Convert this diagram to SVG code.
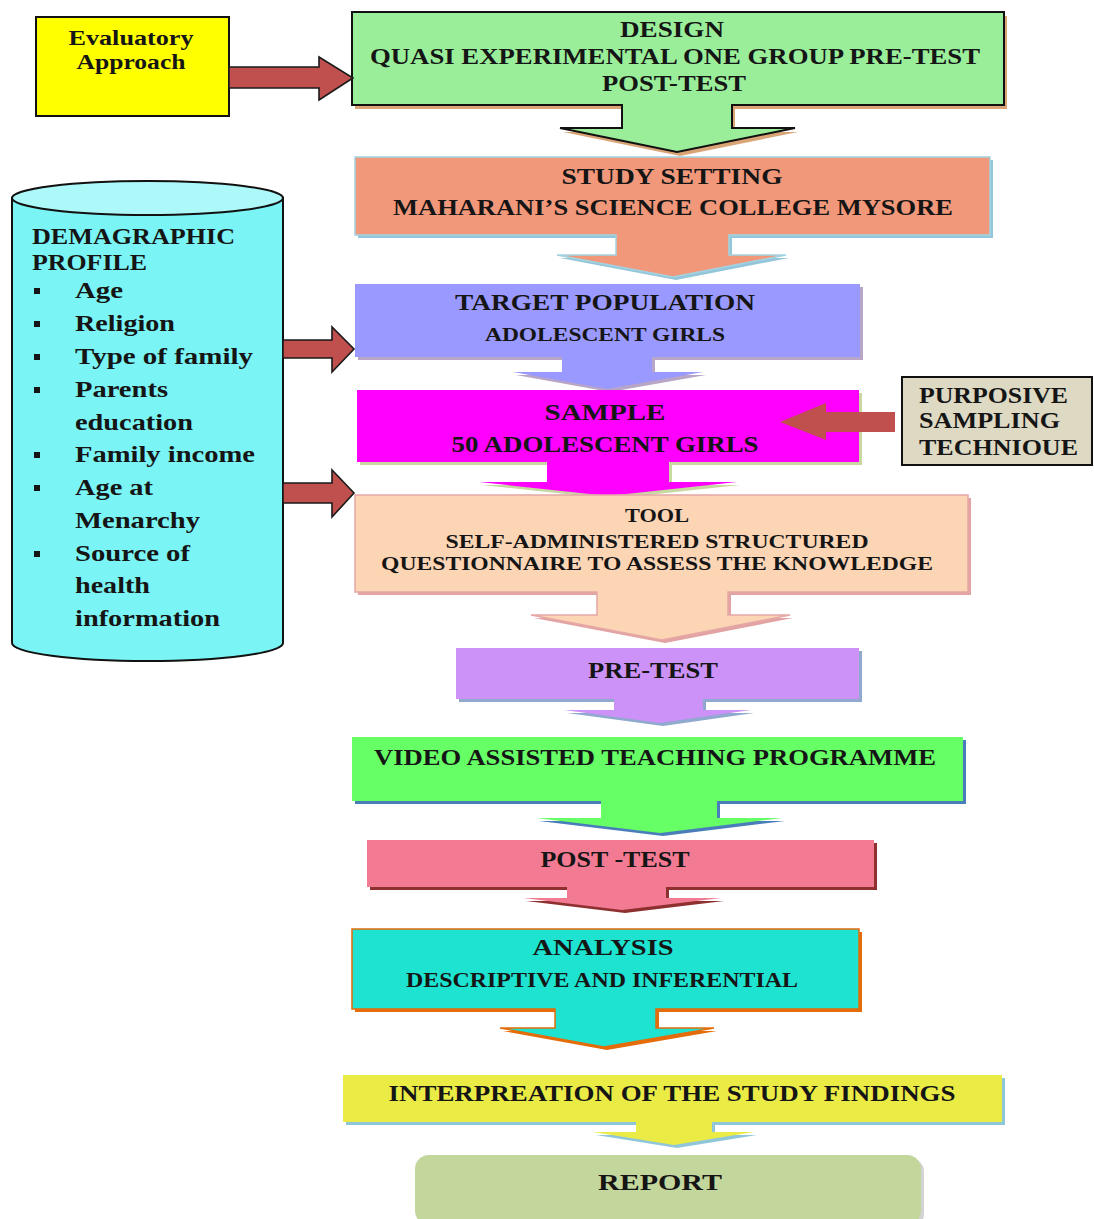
<svg xmlns="http://www.w3.org/2000/svg" width="1094" height="1219" viewBox="0 0 1094 1219">
<style>
  .t{font-family:"Liberation Serif","Times New Roman",serif;font-weight:bold;fill:#151515;}
  .c{text-anchor:middle;}
  .s22{font-size:23.5px;}
  .s19{font-size:20px;}
  .s18{font-size:19px;}
  .s23{font-size:24px;}
  .s20{font-size:20.5px;}
  .red{fill:#C0504D;stroke:#1a1a1a;stroke-width:1.6;}
</style>
<rect width="1094" height="1219" fill="#ffffff"/>

<g id="evaluatory">
  <rect x="36" y="17" width="193" height="99" fill="#FFFF00" stroke="#111" stroke-width="2"/>
  <text class="t s20 c" x="131" y="45" textLength="125" lengthAdjust="spacingAndGlyphs">Evaluatory</text>
  <text class="t s20 c" x="131" y="69" textLength="109" lengthAdjust="spacingAndGlyphs">Approach</text>
</g>

<g id="design">
  <path d="M352,12 H1004 V105 H732 V128 H795 L677,152 L560,128 H622 V105 H352 Z" fill="#D9A577" transform="translate(3,4)"/>
  <path d="M352,12 H1004 V105 H732 V128 H795 L677,152 L560,128 H622 V105 H352 Z" fill="#9AEE9A" stroke="#111" stroke-width="2"/>
  <text class="t s22 c" x="672" y="37" textLength="104" lengthAdjust="spacingAndGlyphs">DESIGN</text>
  <text class="t s22 c" x="675" y="64" textLength="610" lengthAdjust="spacingAndGlyphs">QUASI EXPERIMENTAL ONE GROUP PRE-TEST</text>
  <text class="t s22 c" x="674" y="91" textLength="144" lengthAdjust="spacingAndGlyphs">POST-TEST</text>
</g>

<g id="setting">
  <path d="M355,157 H990 V235 H729 V255 H786 L673,277 L557,255 H616 V235 H355 Z" fill="#93C6D8" transform="translate(3,3)"/>
  <path d="M355,157 H990 V235 H729 V255 H786 L673,277 L557,255 H616 V235 H355 Z" fill="#F2987A" stroke="#A3D3E2" stroke-width="1.5"/>
  <text class="t s22 c" x="672" y="184" textLength="221" lengthAdjust="spacingAndGlyphs">STUDY SETTING</text>
  <text class="t s22 c" x="673" y="215" textLength="560" lengthAdjust="spacingAndGlyphs">MAHARANI’S SCIENCE COLLEGE MYSORE</text>
</g>

<g id="population">
  <path d="M355,284 H860 V357 H652 V372 H703 L607,389 L513,372 H562 V357 H355 Z" fill="#B8A6C6" transform="translate(3,3)"/>
  <path d="M355,284 H860 V357 H652 V372 H703 L607,389 L513,372 H562 V357 H355 Z" fill="#9999FF"/>
  <text class="t s22 c" x="605" y="310" textLength="300" lengthAdjust="spacingAndGlyphs">TARGET POPULATION</text>
  <text class="t s18 c" x="605" y="341" textLength="240" lengthAdjust="spacingAndGlyphs">ADOLESCENT GIRLS</text>
</g>

<g id="sample">
  <path d="M357,390 H859 V462 H669 V482 H737 L608,496 L479,482 H547 V462 H357 Z" fill="#C8D8A0" transform="translate(3,3)"/>
  <path d="M357,390 H859 V462 H669 V482 H737 L608,496 L479,482 H547 V462 H357 Z" fill="#FF00FF"/>
  <text class="t s22 c" x="605" y="420" textLength="121" lengthAdjust="spacingAndGlyphs">SAMPLE</text>
  <text class="t s22 c" x="605" y="452" textLength="307" lengthAdjust="spacingAndGlyphs">50 ADOLESCENT GIRLS</text>
</g>

<g id="purposive">
  <rect x="902" y="377" width="190" height="88" fill="#DDD9C3" stroke="#111" stroke-width="2"/>
  <text class="t s22" x="919" y="403" textLength="149" lengthAdjust="spacingAndGlyphs">PURPOSIVE</text>
  <text class="t s22" x="919" y="428" textLength="141" lengthAdjust="spacingAndGlyphs">SAMPLING</text>
  <text class="t s22" x="919" y="455" textLength="159" lengthAdjust="spacingAndGlyphs">TECHNIOUE</text>
</g>

<g id="tool">
  <path d="M355,495 H968 V592 H728 V615 H790 L662,640 L531,615 H597 V592 H355 Z" fill="#E3A3A3" transform="translate(3,3)"/>
  <path d="M355,495 H968 V592 H728 V615 H790 L662,640 L531,615 H597 V592 H355 Z" fill="#FCD5B5" stroke="#E5A7A7" stroke-width="1.5"/>
  <text class="t s18 c" x="657" y="522" textLength="64" lengthAdjust="spacingAndGlyphs">TOOL</text>
  <text class="t s18 c" x="657" y="548" textLength="423" lengthAdjust="spacingAndGlyphs">SELF-ADMINISTERED STRUCTURED</text>
  <text class="t s18 c" x="657" y="570" textLength="552" lengthAdjust="spacingAndGlyphs">QUESTIONNAIRE TO ASSESS THE KNOWLEDGE</text>
</g>

<g id="pretest">
  <path d="M456,648 H859 V699 H703 V710 H751 L660,723 L564,710 H614 V699 H456 Z" fill="#8FA9CF" transform="translate(3,3)"/>
  <path d="M456,648 H859 V699 H703 V710 H751 L660,723 L564,710 H614 V699 H456 Z" fill="#CC92F7"/>
  <text class="t s22 c" x="653" y="678" textLength="130" lengthAdjust="spacingAndGlyphs">PRE-TEST</text>
</g>

<g id="video">
  <path d="M352,737 H963 V801 H717 V818 H782 L660,833 L536,818 H601 V801 H352 Z" fill="#4A7EBB" transform="translate(3,3)"/>
  <path d="M352,737 H963 V801 H717 V818 H782 L660,833 L536,818 H601 V801 H352 Z" fill="#66FF66"/>
  <text class="t s22 c" x="655" y="765" textLength="562" lengthAdjust="spacingAndGlyphs">VIDEO ASSISTED TEACHING PROGRAMME</text>
</g>

<g id="posttest">
  <path d="M367,840 H874 V887 H666 V898 H721 L622,910 L523,898 H567 V887 H367 Z" fill="#8E3030" transform="translate(3,3)"/>
  <path d="M367,840 H874 V887 H666 V898 H721 L622,910 L523,898 H567 V887 H367 Z" fill="#F27A92"/>
  <text class="t s22 c" x="615" y="867" textLength="149" lengthAdjust="spacingAndGlyphs">POST -TEST</text>
</g>

<g id="analysis">
  <path d="M352,929 H859 V1009 H656 V1028 H714 L604,1047 L500,1028 H555 V1009 H352 Z" fill="#E46C0A" transform="translate(3,3)"/>
  <path d="M352,929 H859 V1009 H656 V1028 H714 L604,1047 L500,1028 H555 V1009 H352 Z" fill="#1DE3D0" stroke="#E46C0A" stroke-width="1.5"/>
  <text class="t s22 c" x="603" y="955" textLength="141" lengthAdjust="spacingAndGlyphs">ANALYSIS</text>
  <text class="t s19 c" x="602" y="987" textLength="392" lengthAdjust="spacingAndGlyphs">DESCRIPTIVE AND INFERENTIAL</text>
</g>

<g id="interpretation">
  <path d="M343,1075 H1002 V1122 H712 V1132 H754 L674,1145 L593,1132 H636 V1122 H343 Z" fill="#8FC6DA" transform="translate(3,3)"/>
  <path d="M343,1075 H1002 V1122 H712 V1132 H754 L674,1145 L593,1132 H636 V1122 H343 Z" fill="#EBEB45"/>
  <text class="t s22 c" x="672" y="1101" textLength="567" lengthAdjust="spacingAndGlyphs">INTERPREATION OF THE STUDY FINDINGS</text>
</g>

<g id="report">
  <rect x="418" y="1158" width="506" height="70" rx="14" fill="#D3D3D3"/>
  <rect x="415" y="1155" width="506" height="70" rx="14" fill="#C3D69B"/>
  <text class="t s22 c" x="660" y="1190" textLength="124" lengthAdjust="spacingAndGlyphs">REPORT</text>
</g>

<g id="demographic">
  <path d="M12,198 V643 A135.5,18 0 0 0 283,643 V198 Z" fill="#7AF4F4" stroke="#111" stroke-width="2"/>
  <ellipse cx="147.5" cy="198" rx="135.5" ry="17" fill="#ADF8F8" stroke="#111" stroke-width="2"/>
  <text class="t s23" x="32" y="244" textLength="203" lengthAdjust="spacingAndGlyphs">DEMAGRAPHIC</text>
  <text class="t s23" x="32" y="270" textLength="115" lengthAdjust="spacingAndGlyphs">PROFILE</text>
  <g fill="#151515">
    <rect x="34" y="288" width="6" height="6"/>
    <rect x="34" y="321" width="6" height="6"/>
    <rect x="34" y="354" width="6" height="6"/>
    <rect x="34" y="387" width="6" height="6"/>
    <rect x="34" y="452" width="6" height="6"/>
    <rect x="34" y="485" width="6" height="6"/>
    <rect x="34" y="551" width="6" height="6"/>
  </g>
  <text class="t s23" x="75" y="298" textLength="48" lengthAdjust="spacingAndGlyphs">Age</text>
  <text class="t s23" x="75" y="331" textLength="100" lengthAdjust="spacingAndGlyphs">Religion</text>
  <text class="t s23" x="75" y="364" textLength="178" lengthAdjust="spacingAndGlyphs">Type of family</text>
  <text class="t s23" x="75" y="397" textLength="93" lengthAdjust="spacingAndGlyphs">Parents</text>
  <text class="t s23" x="75" y="430" textLength="118" lengthAdjust="spacingAndGlyphs">education</text>
  <text class="t s23" x="75" y="462" textLength="180" lengthAdjust="spacingAndGlyphs">Family income</text>
  <text class="t s23" x="75" y="495" textLength="78" lengthAdjust="spacingAndGlyphs">Age at</text>
  <text class="t s23" x="75" y="528" textLength="125" lengthAdjust="spacingAndGlyphs">Menarchy</text>
  <text class="t s23" x="75" y="561" textLength="115" lengthAdjust="spacingAndGlyphs">Source of</text>
  <text class="t s23" x="75" y="593" textLength="75" lengthAdjust="spacingAndGlyphs">health</text>
  <text class="t s23" x="75" y="626" textLength="145" lengthAdjust="spacingAndGlyphs">information</text>
</g>

<g id="connectors">
  <path class="red" d="M229,67 H319 V57 L353,78 L319,100 V88 H229 Z"/>
  <path class="red" d="M283,340 H332 V327 L354,349 L332,372 V358 H283 Z"/>
  <path class="red" d="M283,483 H332 V470 L354,493 L332,517 V503 H283 Z"/>
  <path d="M895,412 H826 V403 L780,422 L826,440 V432 H895 Z" fill="#C0504D"/>
</g>
</svg>
